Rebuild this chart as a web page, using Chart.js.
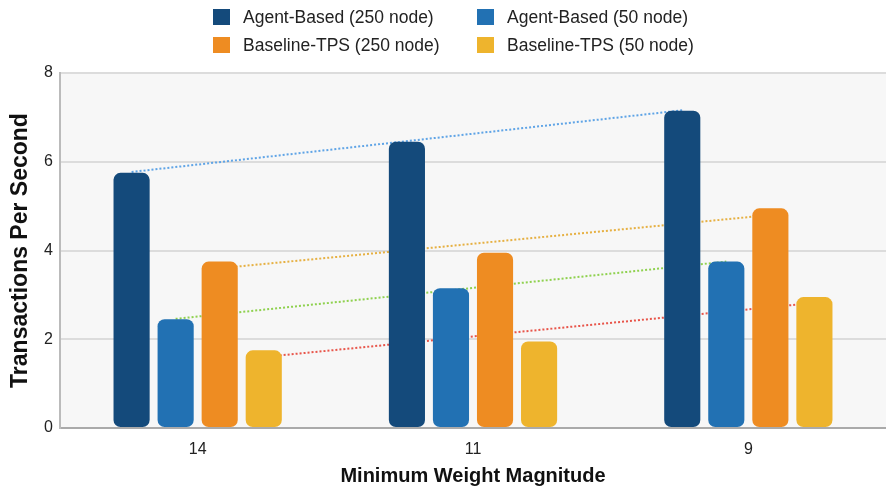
<!DOCTYPE html>
<html>
<head>
<meta charset="utf-8">
<script src="https://cdn.jsdelivr.net/npm/chart.js@4.4.1/dist/chart.umd.min.js"></script>
<style>
  html, body { margin: 0; padding: 0; background: #ffffff; }
  #wrap { position: relative; width: 886px; height: 491px; }
  #legend {
    position: absolute; left: 213px; top: 9px;
    display: grid; grid-template-columns: 264px 264px; row-gap: 12px;
    font-family: "Liberation Sans", Arial, Helvetica, sans-serif;
    font-size: 17.5px; color: #222;
  }
  .item { display: flex; align-items: center; height: 16px; white-space: nowrap; }
  .box { width: 17px; height: 16px; margin-right: 13px; flex: none; }
</style>
</head>
<body>
<div id="wrap">
  <canvas id="chart" width="886" height="491"></canvas>
  <div id="legend"></div>
</div>
<script>
// Minimum weight magnitude settings along the x axis
const categories = ['14', '11', '9'];

// Throughput per configuration (transactions per second)
const agent250 = [5.75, 6.45, 7.15];
const agent50 = [2.45, 3.15, 3.75];
const baseline250 = [3.75, 3.95, 4.95];
const baseline50 = [1.75, 1.95, 2.95];

// Dotted trend lines: value at the first and last group
const trendAgent250 = [5.77, 7.16];
const trendAgent50 = [2.46, 3.75];
const trendBaseline250 = [3.6, 4.8];
const trendBaseline50 = [1.6, 2.82];

const yTicks = [0, 2, 4, 6, 8];

const seriesNames = ['Agent-Based (250 node)', 'Agent-Based (50 node)', 'Baseline-TPS (250 node)', 'Baseline-TPS (50 node)'];
const seriesColors = ['#144a7b', '#2271b3', '#ee8c22', '#eeb42d'];
const trendColors = ['#5fa4e6', '#8fd14f', '#e6b042', '#e8554a'];

const barValues = [agent250, agent50, baseline250, baseline50];
const trendValues = [trendAgent250, trendAgent50, trendBaseline250, trendBaseline50];

const datasets = barValues.map((vals, i) => ({
  label: seriesNames[i],
  data: vals,
  backgroundColor: seriesColors[i],
  borderWidth: 0,
  borderRadius: 7,
  borderSkipped: false,
  categoryPercentage: 0.64,
  barPercentage: 0.82
}));

// Plot area background
const plotBackground = {
  id: 'plotBackground',
  beforeDraw(chart) {
    const { ctx, chartArea: a } = chart;
    ctx.save();
    ctx.fillStyle = '#f7f7f7';
    ctx.fillRect(a.left, a.top, a.right - a.left, a.bottom - a.top);
    ctx.restore();
  }
};

// Dotted trend line per series, from the bar centre in the first group
// to the bar centre in the last group, drawn behind the bars
const trendLines = {
  id: 'trendLines',
  beforeDatasetsDraw(chart) {
    const { ctx } = chart;
    const yScale = chart.scales.y;
    const last = categories.length - 1;
    ctx.save();
    ctx.lineWidth = 2;
    ctx.setLineDash([2, 2]);
    trendValues.forEach((vals, i) => {
      const bars = chart.getDatasetMeta(i).data;
      ctx.strokeStyle = trendColors[i];
      ctx.beginPath();
      ctx.moveTo(bars[0].x, yScale.getPixelForValue(vals[0]));
      ctx.lineTo(bars[last].x, yScale.getPixelForValue(vals[1]));
      ctx.stroke();
    });
    ctx.restore();
  }
};

const font = "'Liberation Sans', Arial, Helvetica, sans-serif";

new Chart(document.getElementById('chart'), {
  type: 'bar',
  data: { labels: categories, datasets },
  plugins: [plotBackground, trendLines],
  options: {
    responsive: false,
    animation: false,
    layout: { padding: { top: 73, left: 0, right: 0, bottom: 0 } },
    plugins: {
      legend: { display: false },
      tooltip: { enabled: false }
    },
    scales: {
      x: {
        grid: { display: false, drawTicks: false },
        border: { display: true, color: '#aaaaaa', width: 2 },
        ticks: { color: '#222', font: { family: font, size: 16 }, padding: 12 },
        title: {
          display: true, text: 'Minimum Weight Magnitude', color: '#111',
          font: { family: font, size: 20, weight: 'bold' }, padding: { top: 0, bottom: 3 }
        },
        afterFit(scale) { scale.height = 63; }
      },
      y: {
        min: 0, max: 8,
        afterBuildTicks(scale) { scale.ticks = yTicks.map(v => ({ value: v })); },
        grid: { color: '#dcdcdc', lineWidth: 2, drawTicks: false },
        border: { display: true, color: '#bbbbbb', width: 2 },
        ticks: { color: '#222', font: { family: font, size: 16 }, padding: 7 },
        title: {
          display: true, text: 'Transactions Per Second', color: '#111',
          font: { family: font, size: 23, weight: 'bold' }, padding: { top: 7, bottom: 0 }
        },
        afterFit(scale) { scale.width = 60; }
      }
    }
  }
});

// Legend laid out as a 2 x 2 grid
const legend = document.getElementById('legend');
seriesNames.forEach((name, i) => {
  const item = document.createElement('div');
  item.className = 'item';
  const box = document.createElement('span');
  box.className = 'box';
  box.style.background = seriesColors[i];
  const txt = document.createElement('span');
  txt.textContent = name;
  item.appendChild(box);
  item.appendChild(txt);
  legend.appendChild(item);
});
</script>
</body>
</html>
